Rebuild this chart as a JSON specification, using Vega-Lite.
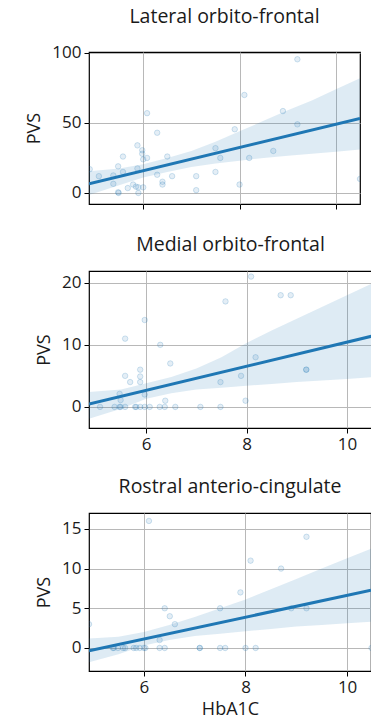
{
  "$schema": "https://vega.github.io/schema/vega-lite/v6.json",
  "padding": {"left": 25, "top": 6, "right": 0, "bottom": 0},
  "background": "white",
  "datasets": {
    "p1": [
      {"x":4.89,"y":17},{"x":5.08,"y":12},{"x":5.38,"y":12.5},{"x":5.38,"y":6.5},{"x":5.48,"y":19},{"x":5.48,"y":0.5},{"x":5.49,"y":0},{"x":5.58,"y":26},{"x":5.58,"y":15},{"x":5.68,"y":3.5},{"x":5.79,"y":6},{"x":5.85,"y":4.5},{"x":5.88,"y":34},{"x":5.88,"y":17.5},{"x":5.9,"y":4},{"x":5.9,"y":0},{"x":5.98,"y":30.5},{"x":5.98,"y":28},{"x":6.0,"y":24},{"x":6.0,"y":4},{"x":6.08,"y":57},{"x":6.08,"y":25},{"x":6.29,"y":43},{"x":6.29,"y":13},{"x":6.4,"y":8},{"x":6.4,"y":6},{"x":6.5,"y":26},{"x":6.6,"y":12},{"x":7.1,"y":12},{"x":7.1,"y":2},{"x":7.5,"y":32},{"x":7.5,"y":15},{"x":7.6,"y":25},{"x":7.9,"y":45.5},{"x":8.0,"y":6},{"x":8.1,"y":70},{"x":8.2,"y":25},{"x":8.7,"y":30},{"x":8.9,"y":58.5},{"x":9.2,"y":95.5},{"x":9.2,"y":49},{"x":10.5,"y":10}
    ],
    "b1": [
      {"x":4.875,"lo":-1.5,"hi":15.5},{"x":5.5,"lo":5.5,"hi":17.5},{"x":6,"lo":11,"hi":20.5},{"x":6.5,"lo":15,"hi":25},{"x":7,"lo":18.5,"hi":30},{"x":7.5,"lo":21,"hi":36.5},{"x":8,"lo":23,"hi":44},{"x":8.5,"lo":25,"hi":51.5},{"x":9,"lo":26.5,"hi":59},{"x":9.5,"lo":28,"hi":66},{"x":10,"lo":29.5,"hi":74},{"x":10.5,"lo":31,"hi":82}
    ],
    "l1": [{"x":4.875,"y":6.5},{"x":10.5,"y":53.3}],
    "p2": [
      {"x":5.08,"y":0},{"x":5.37,"y":0},{"x":5.47,"y":0},{"x":5.49,"y":0},{"x":5.58,"y":0},{"x":5.78,"y":0},{"x":5.8,"y":0},{"x":5.88,"y":0},{"x":5.97,"y":0},{"x":6.07,"y":0},{"x":6.27,"y":0},{"x":6.37,"y":0},{"x":6.58,"y":0},{"x":7.08,"y":0},{"x":7.48,"y":0},
      {"x":5.97,"y":14},{"x":5.58,"y":11},{"x":6.28,"y":10},{"x":6.48,"y":7},{"x":5.88,"y":6},{"x":5.58,"y":5},{"x":5.88,"y":4.9},{"x":5.68,"y":4},{"x":5.88,"y":4},{"x":5.47,"y":2.1},{"x":5.49,"y":1.1},{"x":5.97,"y":2},{"x":6.38,"y":1},{"x":8.09,"y":21},{"x":7.58,"y":17},{"x":8.68,"y":18},{"x":8.88,"y":18},{"x":8.18,"y":8},{"x":9.19,"y":6},{"x":9.19,"y":6},{"x":7.89,"y":5},{"x":7.48,"y":4},{"x":7.98,"y":1}
    ],
    "b2": [
      {"x":4.86,"lo":-1.9,"hi":2.4},{"x":5.5,"lo":-0.3,"hi":2.8},{"x":6,"lo":1.3,"hi":3.8},{"x":6.5,"lo":2.2,"hi":4.8},{"x":7,"lo":2.8,"hi":6.2},{"x":7.5,"lo":3.1,"hi":8.0},{"x":8,"lo":3.4,"hi":10.3},{"x":8.5,"lo":3.7,"hi":12.3},{"x":9,"lo":4.0,"hi":14.2},{"x":9.5,"lo":4.25,"hi":16.1},{"x":10,"lo":4.5,"hi":18.0},{"x":10.5,"lo":4.8,"hi":19.9}
    ],
    "l2": [{"x":4.86,"y":0.45},{"x":10.5,"y":11.4}],
    "p3": [
      {"x":5.39,"y":0},{"x":5.41,"y":0},{"x":5.49,"y":0},{"x":5.59,"y":0},{"x":5.63,"y":0},{"x":5.8,"y":0},{"x":5.85,"y":0},{"x":5.92,"y":0},{"x":6.0,"y":0},{"x":6.03,"y":0},{"x":6.31,"y":0},{"x":6.41,"y":0},{"x":7.1,"y":0},{"x":7.1,"y":0},{"x":7.5,"y":0},{"x":7.6,"y":0},{"x":8.0,"y":0},{"x":8.2,"y":0},{"x":10.48,"y":0},
      {"x":4.92,"y":3},{"x":6.1,"y":16},{"x":9.2,"y":14},{"x":8.1,"y":11},{"x":8.7,"y":10},{"x":7.9,"y":7},{"x":7.5,"y":5},{"x":9.2,"y":5},{"x":8.9,"y":5},{"x":6.41,"y":5},{"x":6.51,"y":4},{"x":6.61,"y":3},{"x":6.31,"y":1}
    ],
    "b3": [
      {"x":4.92,"lo":-1.8,"hi":1.2},{"x":5.5,"lo":-0.8,"hi":1.4},{"x":6,"lo":0.3,"hi":2.0},{"x":6.5,"lo":1.0,"hi":2.9},{"x":7,"lo":1.5,"hi":3.9},{"x":7.5,"lo":1.8,"hi":5.0},{"x":8,"lo":2.1,"hi":6.1},{"x":8.5,"lo":2.4,"hi":7.4},{"x":9,"lo":2.7,"hi":8.7},{"x":9.5,"lo":2.9,"hi":10.0},{"x":10,"lo":3.1,"hi":11.3},{"x":10.47,"lo":3.3,"hi":12.5}
    ],
    "l3": [{"x":4.92,"y":-0.34},{"x":10.47,"y":7.26}]
  },
  "vconcat": [
    {
      "title": "Lateral orbito-frontal",
      "width": 271, "height": 152,
      "layer": [
        {"data": {"name": "p1"}, "mark": {"type": "point", "filled": true, "fill": "#1f77b4", "fillOpacity": 0.12, "stroke": "#1f77b4", "strokeOpacity": 0.2, "strokeWidth": 1, "size": 30, "clip": true},
         "encoding": {
           "x": {"field": "x", "type": "quantitative", "scale": {"domain": [4.875, 10.5], "nice": false, "zero": false}, "axis": {"values": [6, 8, 10], "labels": false, "title": null}},
           "y": {"field": "y", "type": "quantitative", "scale": {"domain": [-7.9, 100.7], "nice": false, "zero": false}, "axis": {"values": [0, 50, 100], "format": "d", "title": "PVS"}}
         }},
        {"data": {"name": "b1"}, "mark": {"type": "area", "color": "#1f77b4", "opacity": 0.15, "clip": true},
         "encoding": {"x": {"field": "x", "type": "quantitative"}, "y": {"field": "lo", "type": "quantitative"}, "y2": {"field": "hi"}}},
        {"data": {"name": "l1"}, "mark": {"type": "line", "color": "#1f77b4", "strokeWidth": 3, "clip": true},
         "encoding": {"x": {"field": "x", "type": "quantitative"}, "y": {"field": "y", "type": "quantitative"}}}
      ]
    },
    {
      "title": "Medial orbito-frontal",
      "width": 283, "height": 157,
      "layer": [
        {"data": {"name": "p2"}, "mark": {"type": "point", "filled": true, "fill": "#1f77b4", "fillOpacity": 0.12, "stroke": "#1f77b4", "strokeOpacity": 0.2, "strokeWidth": 1, "size": 30, "clip": true},
         "encoding": {
           "x": {"field": "x", "type": "quantitative", "scale": {"domain": [4.86, 10.5], "nice": false, "zero": false}, "axis": {"values": [6, 8, 10], "format": "d", "title": null}},
           "y": {"field": "y", "type": "quantitative", "scale": {"domain": [-3.4, 21.9], "nice": false, "zero": false}, "axis": {"values": [0, 10, 20], "format": "d", "title": "PVS"}}
         }},
        {"data": {"name": "b2"}, "mark": {"type": "area", "color": "#1f77b4", "opacity": 0.15, "clip": true},
         "encoding": {"x": {"field": "x", "type": "quantitative"}, "y": {"field": "lo", "type": "quantitative"}, "y2": {"field": "hi"}}},
        {"data": {"name": "l2"}, "mark": {"type": "line", "color": "#1f77b4", "strokeWidth": 3, "clip": true},
         "encoding": {"x": {"field": "x", "type": "quantitative"}, "y": {"field": "y", "type": "quantitative"}}}
      ]
    },
    {
      "title": "Rostral anterio-cingulate",
      "width": 282, "height": 158,
      "layer": [
        {"data": {"name": "p3"}, "mark": {"type": "point", "filled": true, "fill": "#1f77b4", "fillOpacity": 0.12, "stroke": "#1f77b4", "strokeOpacity": 0.2, "strokeWidth": 1, "size": 30, "clip": true},
         "encoding": {
           "x": {"field": "x", "type": "quantitative", "scale": {"domain": [4.92, 10.47], "nice": false, "zero": false}, "axis": {"values": [6, 8, 10], "format": "d", "title": "HbA1C", "titlePadding": 5}},
           "y": {"field": "y", "type": "quantitative", "scale": {"domain": [-2.9, 17.0], "nice": false, "zero": false}, "axis": {"values": [0, 5, 10, 15], "format": "d", "title": "PVS"}}
         }},
        {"data": {"name": "b3"}, "mark": {"type": "area", "color": "#1f77b4", "opacity": 0.15, "clip": true},
         "encoding": {"x": {"field": "x", "type": "quantitative"}, "y": {"field": "lo", "type": "quantitative"}, "y2": {"field": "hi"}}},
        {"data": {"name": "l3"}, "mark": {"type": "line", "color": "#1f77b4", "strokeWidth": 3, "clip": true},
         "encoding": {"x": {"field": "x", "type": "quantitative"}, "y": {"field": "y", "type": "quantitative"}}}
      ]
    }
  ],
  "config": {
    "concat": {"spacing": 22},
    "view": {"stroke": "black", "strokeWidth": 1.2},
    "axis": {
      "domain": false,
      "grid": true, "gridColor": "#b8b8b8", "gridWidth": 1,
      "tickColor": "black", "tickSize": 5, "tickWidth": 1,
      "labelFont": "Open Sans", "labelFontSize": 17, "labelColor": "#1a1a1a", "labelPadding": 3,
      "titleFont": "Open Sans", "titleFontSize": 18, "titleFontWeight": "normal", "titleColor": "#1a1a1a", "titlePadding": 8
    },
    "title": {"font": "Open Sans", "fontSize": 19.5, "fontWeight": "normal", "color": "#1a1a1a", "offset": 16}
  }
}
